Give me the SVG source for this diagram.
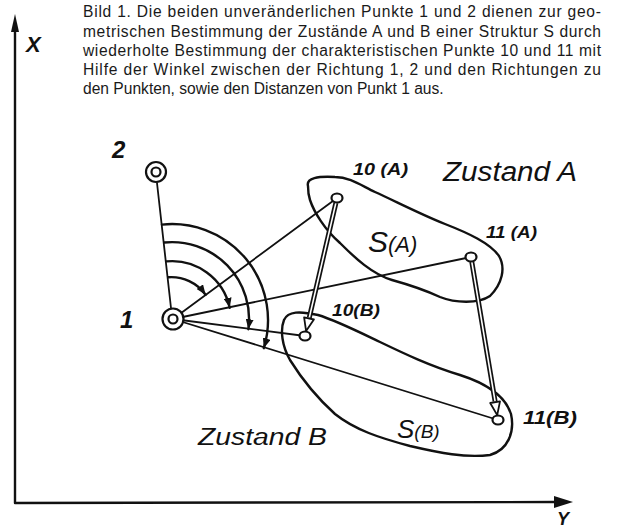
<svg xmlns="http://www.w3.org/2000/svg" width="619" height="530" viewBox="0 0 619 530">
<style>
.cap{font-family:"Liberation Sans",Arial,sans-serif;font-size:15.6px;fill:#1a1a1a}
.hw{font-family:"Liberation Sans",Arial,sans-serif;font-style:italic;fill:#111}
.ln{fill:none;stroke:#111;stroke-width:1.8;stroke-linecap:round;stroke-linejoin:round}
.th{fill:none;stroke:#111;stroke-width:2.4;stroke-linecap:round;stroke-linejoin:round}
.pt{fill:#fff;stroke:#111;stroke-width:2.2}
.dbo{fill:none;stroke:#111;stroke-width:5;stroke-linecap:butt}
.dbi{fill:none;stroke:#fff;stroke-width:1.6}
.hd{fill:#fff;stroke:#111;stroke-width:1.8;stroke-linejoin:round}
</style>
<defs>
<marker id="ah" viewBox="0 0 10 8" refX="10" refY="4" markerWidth="10" markerHeight="8" markerUnits="userSpaceOnUse" orient="auto">
<path d="M0,0 L10,4 L0,8 z" fill="#111"/>
</marker>
</defs>
<rect width="619" height="530" fill="#fff"/>
<g id="caption">
<text class="cap" x="83" y="17" textLength="518" lengthAdjust="spacing">Bild 1. Die beiden unveränderlichen Punkte 1 und 2 dienen zur geo-</text>
<text class="cap" x="83" y="36.5" textLength="518" lengthAdjust="spacing">metrischen Bestimmung der Zustände A und B einer Struktur S durch</text>
<text class="cap" x="83" y="56" textLength="518" lengthAdjust="spacing">wiederholte Bestimmung der charakteristischen Punkte 10 und 11 mit</text>
<text class="cap" x="83" y="75" textLength="518" lengthAdjust="spacing">Hilfe der Winkel zwischen der Richtung 1, 2 und den Richtungen zu</text>
<text class="cap" x="83" y="94">den Punkten, sowie den Distanzen von Punkt 1 aus.</text>
</g>
<g id="axes">
<path class="th" d="M15,503 L15,28 M15,503 L556,502"/>
<path d="M11,32 L15,14 L19,32 z" fill="#111"/>
<path d="M554,496 L573,502 L554,508 z" fill="#111"/>
<text class="hw" x="26" y="52" font-size="22" font-style="normal" font-weight="bold">X</text>
<text class="hw" x="557" y="525" font-size="18" font-style="normal" font-weight="bold">Y</text>
</g>
<g id="blobs">
<path class="th" d="M308,186 C306,178 318,176 335,177 C350,177 362,186 375,192 C395,201 420,214 445,224 C468,233 490,243 499,256 C506,268 502,284 490,296 C478,304 455,303 440,297 C425,290 410,285 392,280 C372,274 355,258 340,243 C325,230 314,212 310,200 C308,194 308,190 308,186 Z"/>
<path class="th" d="M284,320 C288,311 300,311 318,315 C335,320 355,330 380,342 C405,354 430,366 460,375 C485,383 505,395 511,414 C515,432 508,450 490,455 C465,458 440,453 410,446 C380,438 355,430 335,414 C315,396 300,376 290,360 C282,346 280,330 284,320 Z"/>
</g>
<g id="connectors">
<path class="ln" d="M157,183 L171,308"/>
<path class="ln" d="M173,319 L337,198"/>
<path class="ln" d="M173,319 L471,257"/>
<path class="ln" d="M173,319 L305,336"/>
<path class="ln" d="M173,319 L498,420"/>
<path class="th" marker-end="url(#ah)" d="M168.2,277.3 A42,42 0 0 1 205.6,294.8"/>
<path class="th" marker-end="url(#ah)" d="M166.2,261.4 A59,59 0 0 1 229.7,307.8"/>
<path class="th" marker-end="url(#ah)" d="M164.2,242.5 A77,77 0 0 1 248.4,329.2"/>
<path class="th" marker-end="url(#ah)" d="M162.0,224.6 A96,96 0 0 1 263.8,348.2"/>
<path class="dbo" d="M335.9,202.9 L309.3,317.6"/>
<path class="dbi" d="M335.9,202.9 L309.3,317.6"/>
<polygon class="hd" points="313.9,319.5 306.1,331.1 304.1,317.3"/>
<path class="dbo" d="M471.8,261.9 L495.1,401.4"/>
<path class="dbi" d="M471.8,261.9 L495.1,401.4"/>
<polygon class="hd" points="500.0,401.4 497.2,415.1 490.2,403.0"/>
</g>
<g id="p2">
<circle class="pt" cx="156" cy="172" r="10" stroke-width="2.6"/>
<circle class="pt" cx="156" cy="172" r="4.5" stroke-width="2.4"/>
<text class="hw" x="112" y="158" font-size="24" font-weight="bold">2</text>
</g>
<g id="p1">
<circle class="pt" cx="173" cy="319" r="10.5" stroke-width="2.6"/>
<circle class="pt" cx="173" cy="319" r="4.5" stroke-width="2.4"/>
<text class="hw" x="120" y="328" font-size="24" font-weight="bold">1</text>
</g>
<g id="p10A">
<ellipse class="pt" cx="337" cy="198" rx="5.5" ry="4.5"/>
<text class="hw" x="353" y="175" font-size="17" font-weight="bold" textLength="55" lengthAdjust="spacingAndGlyphs">10 (A)</text>
</g>
<g id="p11A">
<ellipse class="pt" cx="471" cy="257" rx="5.5" ry="4.5"/>
<text class="hw" x="486" y="238" font-size="17" font-weight="bold" textLength="51" lengthAdjust="spacingAndGlyphs">11 (A)</text>
</g>
<g id="p10B">
<ellipse class="pt" cx="305" cy="336" rx="5.5" ry="4.5"/>
<text class="hw" x="332" y="316" font-size="17" font-weight="bold" textLength="48" lengthAdjust="spacingAndGlyphs">10(B)</text>
</g>
<g id="p11B">
<ellipse class="pt" cx="498" cy="420" rx="5.5" ry="4.5"/>
<text class="hw" x="523" y="424" font-size="18" font-weight="bold" textLength="54" lengthAdjust="spacingAndGlyphs">11(B)</text>
</g>
<g id="labels">
<text class="hw" x="443" y="181" font-size="27" textLength="134" lengthAdjust="spacingAndGlyphs">Zustand A</text>
<text class="hw" x="368" y="252" font-size="30">S<tspan font-size="22">(A)</tspan></text>
<text class="hw" x="397" y="438" font-size="26">S<tspan font-size="19">(B)</tspan></text>
<text class="hw" x="198" y="445" font-size="23" textLength="129" lengthAdjust="spacingAndGlyphs">Zustand B</text>
</g>
</svg>
